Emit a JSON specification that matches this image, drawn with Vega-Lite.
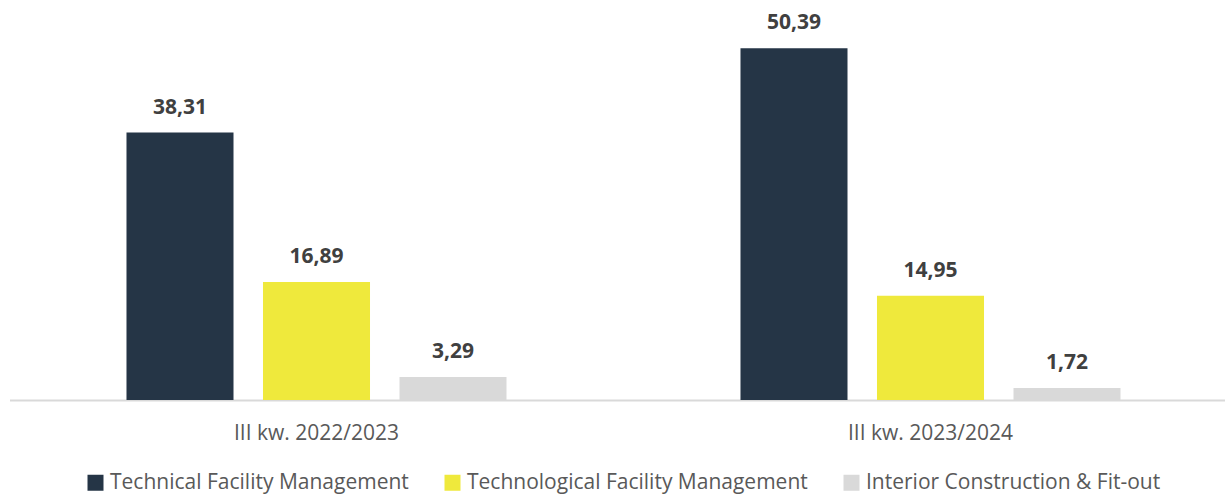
{
  "$schema": "https://vega.github.io/schema/vega-lite/v6.json",
  "autosize": {"type": "none"},
  "width": 1215,
  "height": 400,
  "padding": {"left": 10, "top": 0, "right": 0, "bottom": 95},
  "background": "white",
  "config": {
    "view": {"stroke": null},
    "font": "Open Sans",
    "locale": {"number": {"decimal": ",", "thousands": " ", "grouping": [3], "currency": ["", " zł"]}}
  },
  "data": {"values": [
    {"period": "III kw. 2022/2023", "segment": "Technical Facility Management", "value": 38.31},
    {"period": "III kw. 2022/2023", "segment": "Technological Facility Management", "value": 16.89},
    {"period": "III kw. 2022/2023", "segment": "Interior Construction & Fit-out", "value": 3.29},
    {"period": "III kw. 2023/2024", "segment": "Technical Facility Management", "value": 50.39},
    {"period": "III kw. 2023/2024", "segment": "Technological Facility Management", "value": 14.95},
    {"period": "III kw. 2023/2024", "segment": "Interior Construction & Fit-out", "value": 1.72}
  ]},
  "encoding": {
    "x": {"field": "period", "type": "nominal", "title": null,
      "scale": {"range": [-0.5, 1227.5], "paddingInner": 0, "paddingOuter": 0},
      "axis": {"labelAngle": 0, "ticks": false, "domainColor": "#d9d9d9", "domainWidth": 2, "labelColor": "#595959", "labelFontSize": 21, "labelPadding": 22, "labelFont": "Open Sans"}},
    "xOffset": {"field": "segment", "type": "nominal", "sort": ["Technical Facility Management", "Technological Facility Management", "Interior Construction & Fit-out"],
      "scale": {"paddingInner": 0.216, "paddingOuter": 0.857}},
    "y": {"field": "value", "type": "quantitative", "scale": {"domain": [0, 57.3]}, "axis": null}
  },
  "layer": [
    {"mark": {"type": "bar"},
     "encoding": {
       "color": {"field": "segment", "type": "nominal", "sort": ["Technical Facility Management", "Technological Facility Management", "Interior Construction & Fit-out"],
         "scale": {"domain": ["Technical Facility Management", "Technological Facility Management", "Interior Construction & Fit-out"], "range": ["#253546", "#efe93c", "#d9d9d9"]},
         "legend": {"title": null, "orient": "none", "direction": "horizontal", "legendX": 75, "legendY": 472, "symbolType": "square", "symbolSize": 256, "symbolStrokeWidth": 0, "labelFontSize": 21, "labelColor": "#595959", "labelLimit": 600, "labelOffset": 4, "columnPadding": 33, "symbolOpacity": 1}
       }}},
    {"mark": {"type": "text", "baseline": "alphabetic", "dy": -19, "fontWeight": "bold", "fontSize": 21, "color": "#404040"},
     "encoding": {"text": {"field": "value", "type": "quantitative", "format": ".2f"}}}
  ]
}
